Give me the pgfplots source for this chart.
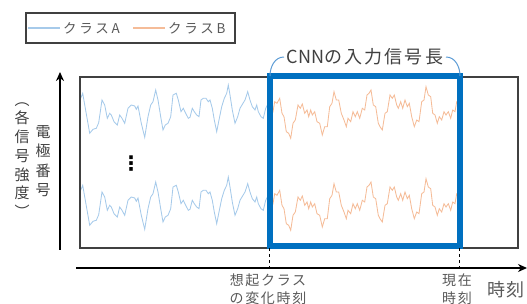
\documentclass[border=0pt]{standalone}
\usepackage{pgfplots}
\pgfplotsset{compat=1.18}
\usepackage{pgfplotstable}
\usepackage{fontspec}
\setmainfont{Noto Sans CJK JP}
\newfontfamily\jp[LetterSpace=20]{Noto Sans CJK JP}
\newfontfamily\jpw[LetterSpace=8]{Noto Sans CJK JP}
\newfontfamily\jpx[LetterSpace=12]{Noto Sans CJK JP}
\newfontfamily\dejavu{DejaVu Sans}
\usetikzlibrary{arrows.meta}
\definecolor{cA}{HTML}{A6CAEA}
\definecolor{cB}{HTML}{F5BC98}
\definecolor{boxblue}{HTML}{0070C0}
\definecolor{brc}{HTML}{5B9BD5}
\definecolor{dk}{HTML}{404040}
\definecolor{gt}{HTML}{595959}

\pgfplotstableread{
x y
80.7 98.3
82.7 93.3
89.7 133.3
93 129.3
96.3 128.3
98.7 122.7
102 100
104.7 105
107.3 118.3
109.7 113.3
111.3 115
114 121.7
117.3 125
119.7 115
122 118.3
124.7 123.3
128 108.3
131.3 105
134.7 106
136.3 109.3
138 106
141.3 123.3
144.7 137.3
148 116.7
150.7 105
153 101.7
155.7 90
158 100
160.7 116.7
163 130
165.3 125
168 123.3
170.7 116.7
173 95
176.3 93.3
178.3 100
181 111.7
183.3 108.3
185.7 113.3
188.3 118.3
190 117.3
192.3 108.3
194.3 111.7
196.7 115
199 116.7
201 100
203.3 98.3
206 98.3
208.3 101.7
210 100
212.3 108.3
214.3 120
216.7 131.7
219 120
221.7 106.7
224.3 98.3
226.7 93.3
228.3 85
230 95
232.3 110
235 123.3
237.7 116.7
240 108.3
245 100
247.7 91.7
250 100
252.3 106.7
255 110
256.7 105
258.3 111.7
261 116.7
263.3 118.3
265.7 108.3
268 104
}\tabA

\pgfplotstableread{
x y
270 108
273 111.7
274.7 101.7
277 103.3
279.7 98.3
282 113.3
284 116.7
286.3 131.7
288.7 133.3
290.7 138.3
293 123.3
295.3 120
298 105
300.3 108.3
302.3 104
304.7 113.3
307 110
308.7 116.7
310.7 110
312.3 115
314.7 111.7
317 121.7
319.7 123.3
322.3 135
324.7 126.7
327.3 126.7
329.7 106.7
332 103.3
334 91.7
336.3 100
338.7 100
341.3 113.3
344 120
346.3 126.7
348 118.3
350.7 121.7
353 111.7
355.3 116.7
357.3 111.7
359.7 118.3
362.3 108.3
364.7 110
367 95
369 93.3
371 90
373.3 105
375.7 106.7
378.3 123.3
380 126.7
382.3 130
385 113.3
387.3 111.7
390 95
392.3 98.3
394.3 95
396.7 105
398.3 108.3
400.7 101.7
402.7 108.3
405 100
407.3 106.7
409.3 103.3
411.7 116.7
414.3 126.7
416.7 120
419 121.7
421.7 101.7
424 100
426 86.7
428.3 95
430.7 96.7
432.7 113.3
435 115
437.3 123.3
439.3 116.7
441.7 120
444 111.7
446 115
448.3 111.7
450.7 118.3
452.7 110
455 111.7
456.7 101.7
459 100
}\tabB

\begin{document}
\begin{tikzpicture}
\begin{axis}[
  width=527pt, height=304pt, scale only axis,
  xmin=0, xmax=527, ymin=0, ymax=304, y dir=reverse,
  axis lines=none, clip=false,
]
\addplot[cA, line width=0.85pt, no markers] table[x=x, y=y]{\tabA};
\addplot[cB, line width=0.85pt, no markers] table[x=x, y=y]{\tabB};
\addplot[cA, line width=0.85pt, no markers] table[x=x, y expr=\thisrow{y}+92]{\tabA};
\addplot[cB, line width=0.85pt, no markers] table[x=x, y expr=\thisrow{y}+92]{\tabB};

% legend
\draw[dk, line width=1.1pt, fill=white] (axis cs:26,13) rectangle (axis cs:235,43);
\draw[cA, line width=1.2pt] (axis cs:28,28) -- (axis cs:60,28);
\draw[cB, line width=1.2pt] (axis cs:133,28) -- (axis cs:165,28);
\node[anchor=west, inner sep=0pt, text=gt, font=\jp\fontsize{13.5}{14}\selectfont] at (axis cs:63,28) {クラスA};
\node[anchor=west, inner sep=0pt, text=gt, font=\jp\fontsize{13.5}{14}\selectfont] at (axis cs:168,28) {クラスB};

% frame
\draw[dk, line width=1.2pt] (axis cs:80,77) rectangle (axis cs:518,248);
% CNN window
\draw[boxblue, line width=5.5pt] (axis cs:270,76) rectangle (axis cs:460,246);
% brace ends
\draw[brc, line width=1pt] (axis cs:270,76) to[out=90,in=180] (axis cs:284,57);
\draw[brc, line width=1pt] (axis cs:446,57) to[out=0,in=90] (axis cs:460,76);
\node[text=dk, font=\fontsize{18}{18}\selectfont] at (axis cs:365,57) {CNN{\jpx の入力信号長}};

% vertical ellipsis
\node[font=\dejavu\bfseries\fontsize{20}{20}\selectfont] at (axis cs:131,164) {⋮};

% axes arrows
\draw[line width=2pt, -{Stealth[length=9pt,width=8pt]}] (axis cs:60,250) -- (axis cs:60,72);
\draw[line width=2pt, -{Stealth[length=9pt,width=8pt]}] (axis cs:76,268) -- (axis cs:527,268);
\draw[line width=0.8pt, dashed] (axis cs:269,248) -- (axis cs:269,268);
\draw[line width=0.8pt, dashed] (axis cs:459,248) -- (axis cs:459,268);

% y labels (vertical writing)
\node[text=dk, align=center, font=\fontsize{15}{19.3}\selectfont] at (axis cs:43,161) {電\\極\\番\\号};
\node[text=dk, align=center, font=\fontsize{15}{18.7}\selectfont] at (axis cs:22,160) {︵\\各\\信\\号\\強\\度\\︶};

% x labels
\node[text=gt, align=center, font=\jpx\fontsize{14}{18}\selectfont] at (axis cs:268,289) {想起クラス\\の変化時刻};
\node[text=gt, align=center, font=\jpx\fontsize{14}{18}\selectfont] at (axis cs:457,289) {現在\\時刻};
\node[text=gt, font=\jpw\fontsize{18}{18}\selectfont] at (axis cs:506,290) {時刻};
\end{axis}
\pgfresetboundingbox
\useasboundingbox (0,0) rectangle (527pt,304pt);
\end{tikzpicture}
\end{document}
